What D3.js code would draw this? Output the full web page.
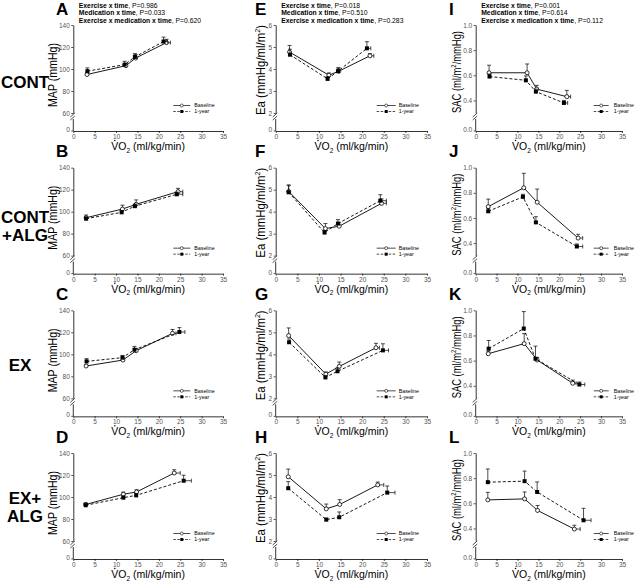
<!DOCTYPE html>
<html><head><meta charset="utf-8">
<script src="https://cdn.jsdelivr.net/npm/d3@7"></script>
<style>body{margin:0;background:#fff} svg{display:block;font-family:Arial,"Liberation Sans",sans-serif}</style>
</head><body><svg id="c" width="640" height="585"></svg>
<script>
// ---------- data ----------
const groupLabels = [["CONT"],["CONT","+ALG"],["EX"],["EX+","ALG"]];
const panelLetters = [["A","E","I"],["B","F","J"],["C","G","K"],["D","H","L"]];
const xTicks = [0,5,10,15,20,25,30,35];
const mapTicks = [60,80,100,120,140];
const eaTicks = [2,3,4,5,6];
const sacTicks = [0.4,0.6,0.8,1.0];
const seriesNames = ["Baseline","1-year"];

// VO2 (x) per group: CONT, CONT+ALG, EX, EX+ALG
const vo2Base = [[3.2,12.3,14.6,21.8],[3.0,11.5,14.7,24.5],[3.0,11.6,14.7,23.2],[2.9,11.7,14.8,23.6]];
const vo2Year = [[3.3,12.0,14.4,21.1],[3.0,11.3,14.4,24.2],[3.1,11.5,14.3,24.8],[2.9,11.7,14.7,25.8]];
const vo2BaseErr = [[0,0,0,0.9],[0,0,0,1.1],[0,0,0,0.8],[0,0,0,1.4]];
const vo2YearErr = [[0,0,0,0.9],[0,0,0,1.4],[0,0,0,1.3],[0,0,0,1.8]];

// MAP (mmHg)
const mapBase = [[95,103,110,124],[94.5,102.4,106.7,118.2],[89.4,94.8,103.3,119.1],[93.2,102.5,104.6,121.8]];
const mapYear = [[98,104,111,125],[93.6,99.4,105,115.8],[93.6,97,104.2,120.3],[92.5,99.4,101.5,114.8]];
const mapBaseErr = [[2,2,3,3],[2.5,3.5,4,3],[1.5,2,2,3.5],[1.5,2,2,3]];
const mapYearErr = [[3,3,3,4],[1.5,1.5,2,2],[2.5,2,3,4],[1.5,1.5,1.5,5]];

// Ea (mmHg/ml/m2)
const eaBase = [[4.77,3.72,3.9,4.6],[4.92,3.23,3.34,4.38],[4.85,3.1,3.45,4.3],[4.92,3.46,3.66,4.55]];
const eaYear = [[4.65,3.55,3.9,4.94],[4.88,3.05,3.46,4.5],[4.55,2.95,3.23,4.18],[4.4,2.97,3.08,4.2]];
const eaBaseErr = [[0.3,0.1,0.15,0.1],[0.3,0.23,0.15,0.2],[0.35,0.1,0.2,0.2],[0.35,0.22,0.22,0.13]];
const eaYearErr = [[0.25,0.1,0.15,0.3],[0.3,0.1,0.18,0.27],[0.15,0.07,0.15,0.3],[0.3,0.07,0.24,0.3]];

// SAC (ml/m2/mmHg)
const sacBase = [[0.62,0.62,0.49,0.43],[0.69,0.84,0.725,0.44],[0.655,0.735,0.605,0.42],[0.627,0.635,0.543,0.395]];
const sacYear = [[0.59,0.56,0.47,0.38],[0.653,0.768,0.565,0.373],[0.695,0.855,0.615,0.41],[0.768,0.776,0.69,0.465]];
const sacBaseErr = [[0.06,0.07,0.03,0.05],[0.06,0.115,0.105,0.03],[0.02,0.08,0.02,0.025],[0.06,0.055,0.04,0.03]];
const sacYearErr = [[0.02,0.035,0.02,0.02],[0.02,0.02,0.045,0.02],[0.065,0.135,0.1,0.02],[0.105,0.08,0.08,0.095]];

const statLabels = ["Exercise x time","Medication x time","Exercise x medication x time"];
const mapP = ["P=0.986","P=0.033","P=0.620"];
const eaP = ["P=0.018","P=0.510","P=0.283"];
const sacP = ["P=0.001","P=0.614","P=0.112"];

// ---------- layout ----------
const svg = d3.select("#c");
const colX0 = [73.3, 275.7, 475.7];
const colX35 = [223, 427, 622];
const rowTop = r => 25 + r*142.67;
const cols = [
  {ticks:mapTicks, lo:60, hi:140, zero:"0", fmt:d=>d, tl:64, tx:-20, ty:50, base:mapBase, year:mapYear, be:mapBaseErr, ye:mapYearErr, p:mapP, letterX:56, legLine:[100,117], legText:121},
  {ticks:eaTicks, lo:2, hi:6, zero:"0", fmt:d=>d, tl:90, tx:-15, ty:45, base:eaBase, year:eaYear, be:eaBaseErr, ye:eaYearErr, p:eaP, letterX:255, legLine:[101,120], legText:123},
  {ticks:sacTicks, lo:0.3, hi:1.0, zero:"0.0", fmt:d3.format(".1f"), tl:82, tx:-19, ty:47, base:sacBase, year:sacYear, be:sacBaseErr, ye:sacYearErr, p:sacP, letterX:449, legLine:[118,133], legText:138}
];
const rowLabelX = [25,25,20,25];
const rowLabelDy = [[63],[55,73],[61],[51,69]];
const tickCol = "#555";

for (let r=0;r<4;r++){
  const top = rowTop(r);
  groupLabels[r].forEach((t,i)=>{
    svg.append("text").attr("x",rowLabelX[r]).attr("y",top+rowLabelDy[r][i]).attr("text-anchor","middle")
      .attr("font-size",17).attr("font-weight","bold").text(t);
  });
  for (let c=0;c<3;c++){
    const cf = cols[c];
    const x0 = colX0[c];
    const x = d3.scaleLinear().domain([0,35]).range([x0, colX35[c]]);
    const y = d3.scaleLinear().domain([cf.lo, cf.hi]).range([top+88, top]);
    const yZero = top+106;
    const g = svg.append("g");

    // x axis
    const xa = g.append("g").attr("transform",`translate(0,${yZero})`)
      .call(d3.axisBottom(x).tickValues(xTicks).tickSize(2).tickPadding(1.5).tickSizeOuter(0));
    xa.selectAll("text").attr("font-size",6.5).attr("fill",tickCol);
    xa.select(".domain").attr("stroke-width",0.8);
    xa.selectAll(".tick line").attr("stroke-width",0.7);

    // y axis upper
    const ya = g.append("g").attr("transform",`translate(${x0},0)`)
      .call(d3.axisLeft(y).tickValues(cf.ticks).tickFormat(cf.fmt).tickSize(2).tickPadding(1.5).tickSizeOuter(0));
    ya.selectAll("text").attr("font-size",6.5).attr("fill",tickCol);
    ya.select(".domain").attr("stroke-width",0.8);
    ya.selectAll(".tick line").attr("stroke-width",0.7);
    // y axis lower segment + zero tick
    g.append("line").attr("x1",x0).attr("x2",x0).attr("y1",top+94).attr("y2",yZero).attr("stroke","#000").attr("stroke-width",0.8);
    g.append("line").attr("x1",x0-2).attr("x2",x0).attr("y1",yZero).attr("y2",yZero).attr("stroke","#000").attr("stroke-width",0.7);
    g.append("text").attr("x",x0-3.5).attr("y",yZero-1).attr("dy","0.32em").attr("text-anchor","end")
      .attr("font-size",6.5).attr("fill",tickCol).text(cf.zero);
    // break marks
    [[88,91],[91,94]].forEach(([a,b])=>{
      g.append("line").attr("x1",x0-3).attr("y1",top+b+1).attr("x2",x0+1.5).attr("y2",top+a).attr("stroke","#000").attr("stroke-width",0.7);
    });

    // y title
    const yt = g.append("text").attr("transform",`translate(${x0+cf.tx+4},${top+cf.ty}) rotate(-90)`)
      .attr("text-anchor","middle").attr("font-size",12).attr("textLength",cf.tl).attr("lengthAdjust","spacingAndGlyphs");
    if (c===0) yt.text("MAP (mmHg)");
    else if (c===1){ yt.append("tspan").text("Ea (mmHg/ml/m"); yt.append("tspan").attr("font-size",7.5).attr("dy",-4.5).text("2"); yt.append("tspan").attr("dy",4.5).text(")"); }
    else { yt.append("tspan").text("SAC (ml/m"); yt.append("tspan").attr("font-size",7.5).attr("dy",-4.5).text("2"); yt.append("tspan").attr("dy",4.5).text("/mmHg)"); }

    // x title with dot over V
    const xt = g.append("text").attr("x",(x(0)+x(35))/2).attr("y",top+125).attr("text-anchor","middle").attr("font-size",10.5);
    xt.append("tspan").text("VO");
    xt.append("tspan").attr("font-size",6.5).attr("dy",2.5).text("2");
    xt.append("tspan").attr("dy",-2.5).text(" (ml/kg/min)");
    const ext = xt.node().getExtentOfChar(0);
    g.append("circle").attr("cx",ext.x+ext.width/2).attr("cy",ext.y+0.5).attr("r",0.75).attr("fill","#000");

    // panel letter
    g.append("text").attr("x",cf.letterX).attr("y",top-10.5).attr("font-size",17).attr("font-weight","bold").text(panelLetters[r][c]);

    // stats (row 0 only)
    if (r===0){
      statLabels.forEach((s,i)=>{
        const t = g.append("text").attr("x",x0+5.5).attr("y",7.5+i*7.8).attr("font-size",6.8);
        t.append("tspan").attr("font-weight","bold").text(s);
        t.append("tspan").text(", "+cf.p[i]);
      });
    }

    // series
    const series = [
      {xs:vo2Base[r], xe:vo2BaseErr[r], ys:cf.base[r], ye:cf.be[r], dash:null, filled:false},
      {xs:vo2Year[r], xe:vo2YearErr[r], ys:cf.year[r], ye:cf.ye[r], dash:"3,2", filled:true}
    ];
    const line = d3.line().x(d=>x(d[0])).y(d=>y(d[1]));
    series.forEach(s=>{
      const pts = s.xs.map((v,i)=>[v,s.ys[i],s.xe[i],s.ye[i]]);
      pts.forEach(p=>{
        if (p[3]>0){
          g.append("line").attr("x1",x(p[0])).attr("x2",x(p[0])).attr("y1",y(p[1])).attr("y2",y(p[1]+p[3])).attr("stroke","#000").attr("stroke-width",0.7);
          g.append("line").attr("x1",x(p[0])-2).attr("x2",x(p[0])+2).attr("y1",y(p[1]+p[3])).attr("y2",y(p[1]+p[3])).attr("stroke","#000").attr("stroke-width",0.7);
        }
        if (p[2]>0){
          g.append("line").attr("x1",x(p[0])).attr("x2",x(p[0]+p[2])).attr("y1",y(p[1])).attr("y2",y(p[1])).attr("stroke","#000").attr("stroke-width",0.7);
          g.append("line").attr("x1",x(p[0]+p[2])).attr("x2",x(p[0]+p[2])).attr("y1",y(p[1])-2).attr("y2",y(p[1])+2).attr("stroke","#000").attr("stroke-width",0.7);
        }
      });
      g.append("path").datum(pts).attr("d",line).attr("fill","none").attr("stroke","#000").attr("stroke-width",0.9)
        .attr("stroke-dasharray",s.dash);
      pts.forEach(p=>{
        if (s.filled) g.append("rect").attr("x",x(p[0])-2).attr("y",y(p[1])-2).attr("width",4).attr("height",4).attr("fill","#000");
        else g.append("circle").attr("cx",x(p[0])).attr("cy",y(p[1])).attr("r",2).attr("fill","#fff").attr("stroke","#000").attr("stroke-width",0.8);
      });
    });

    // legend
    seriesNames.forEach((n,i)=>{
      const ly = top+80.5+i*6;
      const lx1 = x0+cf.legLine[0], lx2 = x0+cf.legLine[1];
      g.append("line").attr("x1",lx1).attr("x2",lx2).attr("y1",ly).attr("y2",ly).attr("stroke","#000").attr("stroke-width",0.7)
        .attr("stroke-dasharray",i?"2.5,1.5":null);
      const mx = (lx1+lx2)/2;
      if (i) g.append("rect").attr("x",mx-1.5).attr("y",ly-1.5).attr("width",3).attr("height",3).attr("fill","#000");
      else g.append("circle").attr("cx",mx).attr("cy",ly).attr("r",1.5).attr("fill","#fff").attr("stroke","#000").attr("stroke-width",0.6);
      g.append("text").attr("x",x0+cf.legText).attr("y",ly).attr("dy","0.35em").attr("font-size",5.3).text(n);
    });
  }
}
</script></body></html>
